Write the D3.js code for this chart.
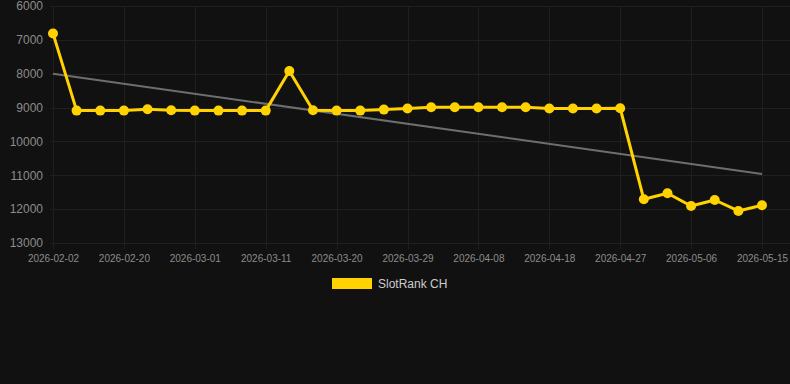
<!DOCTYPE html>
<html>
<head>
<meta charset="utf-8">
<script src="https://cdn.jsdelivr.net/npm/d3@7"></script>
<style>
  html, body { margin: 0; padding: 0; background: #111111; }
  svg { display: block; }
  text { font-family: "Liberation Sans", Arial, sans-serif; }
</style>
</head>
<body>
<svg id="chart" width="790" height="384"></svg>
<script>
// ---- data ----
const dates = [
  "2026-02-02","2026-02-08","2026-02-14","2026-02-20","2026-02-23","2026-02-26",
  "2026-03-01","2026-03-04","2026-03-08","2026-03-11","2026-03-14","2026-03-17",
  "2026-03-20","2026-03-23","2026-03-26","2026-03-29","2026-04-01","2026-04-05",
  "2026-04-08","2026-04-11","2026-04-15","2026-04-18","2026-04-21","2026-04-24",
  "2026-04-27","2026-04-30","2026-05-03","2026-05-06","2026-05-09","2026-05-12",
  "2026-05-15"
];
const ranks = [
  6810, 9090, 9090, 9090, 9050, 9080, 9090, 9090, 9090, 9090,
  7920, 9080, 9090, 9090, 9060, 9030, 8990, 8990, 8990, 8990,
  8990, 9030, 9030, 9030, 9020, 11710, 11530, 11907, 11730, 12054,
  11886
];
const trendEnds = [8000, 10960];
const yTicks = [6000, 7000, 8000, 9000, 10000, 11000, 12000, 13000];
const seriesName = "SlotRank CH";

// ---- scales ----
const svg = d3.select("#chart");
const x = d3.scalePoint().domain(dates).range([53, 762]);
const y = d3.scaleLinear().domain([6000, 13000]).range([6, 243]);

const gridColor = "#1f1f1f";
const labelColor = "#8c8c8c";

// horizontal grid
svg.append("g").selectAll("line").data(yTicks).join("line")
  .attr("x1", 50).attr("x2", 790)
  .attr("y1", d => Math.round(y(d)) + 0.5).attr("y2", d => Math.round(y(d)) + 0.5)
  .attr("stroke", gridColor).attr("stroke-width", 1);

// vertical grid at labelled categories
const labelled = dates.filter((d, i) => i % 3 === 0);
svg.append("g").selectAll("line").data(labelled).join("line")
  .attr("x1", d => Math.round(x(d)) + 0.5).attr("x2", d => Math.round(x(d)) + 0.5)
  .attr("y1", 6).attr("y2", 249)
  .attr("stroke", gridColor).attr("stroke-width", 1);

// y axis labels
const yAxis = d3.axisLeft(y).tickValues(yTicks).tickSize(0).tickPadding(0).tickFormat(d3.format("d"));
const gy = svg.append("g").attr("transform", "translate(43,0)").call(yAxis);
gy.select(".domain").remove();
gy.selectAll("text").attr("fill", labelColor).style("font-size", "12px")
  .style("font-family", "'Liberation Sans', Arial, sans-serif");

// x axis labels
const xAxis = d3.axisBottom(x).tickValues(labelled).tickSize(0).tickPadding(0);
const gx = svg.append("g").attr("transform", "translate(0,255)").call(xAxis);
gx.select(".domain").remove();
gx.selectAll("text").attr("fill", labelColor).style("font-size", "10px")
  .style("font-family", "'Liberation Sans', Arial, sans-serif");

// trend line
svg.append("line")
  .attr("x1", x(dates[0])).attr("y1", y(trendEnds[0]))
  .attr("x2", x(dates[dates.length - 1])).attr("y2", y(trendEnds[1]))
  .attr("stroke", "#6e6e6e").attr("stroke-width", 2);

// series line
const yellow = "#FFD200";
const data = dates.map((d, i) => ({ d, v: ranks[i] }));
svg.append("path").datum(data)
  .attr("fill", "none").attr("stroke", yellow).attr("stroke-width", 3)
  .attr("stroke-linejoin", "round")
  .attr("d", d3.line().x(p => x(p.d)).y(p => y(p.v)));

svg.append("g").selectAll("circle").data(data).join("circle")
  .attr("cx", p => x(p.d)).attr("cy", p => y(p.v)).attr("r", 5)
  .attr("fill", yellow);

// legend
const lg = svg.append("g");
lg.append("rect").attr("x", 332).attr("y", 278).attr("width", 40).attr("height", 11).attr("fill", yellow);
lg.append("text").attr("x", 378).attr("y", 288).attr("fill", "#cccccc")
  .style("font-size", "12px").text(seriesName);
</script>
</body>
</html>
